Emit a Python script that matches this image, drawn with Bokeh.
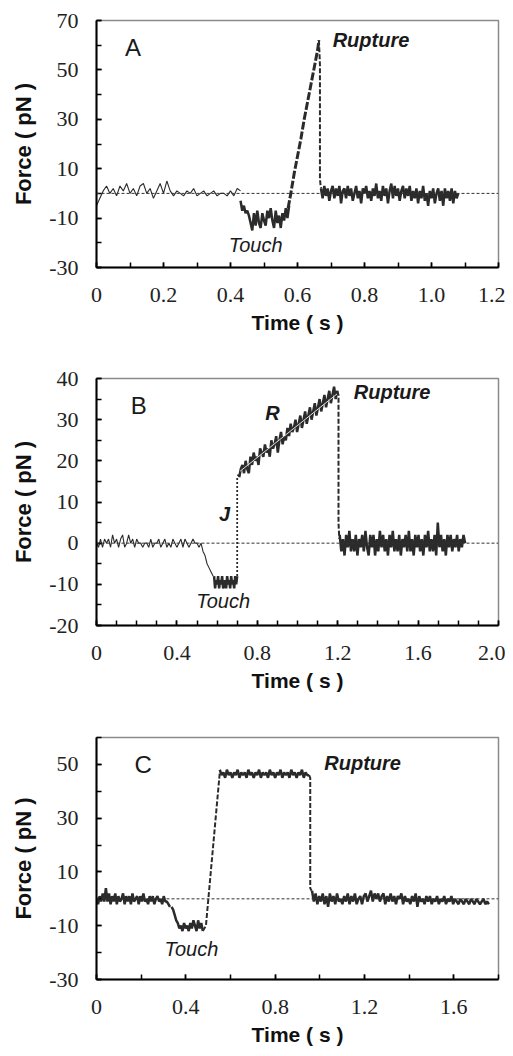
import numpy as np
from bokeh.plotting import figure
from bokeh.layouts import column
from bokeh.models import Range1d, FixedTicker, CustomJSTickFormatter, Span, Label
from bokeh.embed import file_html
from bokeh.resources import INLINE

# ---------------- data ----------------
# Panel A (sampled segments: start time, step, force values in pN)
A_pre_t0, A_pre_dt = 0.0, 0.01
A_pre = [-5, -2, 1, 3, 0, 2, -1, 3, 1, 4, 0, 2, -1, 3, 4, 0, 2, -2, 1, 4, 0, 5, 1, -1, 1, 0,
         -1, 1, 0, 2, -1, 0, 1, -1, 0, 1, -1, 0, 0, -1, 1, -1, 2, 1]
A_touch_t0, A_touch_dt = 0.43, 0.005
A_touch = [-3, -7, -5, -8, -7, -9, -12, -15, -8, -13, -7, -12, -14, -8, -11, -13, -7, -10, -6, -11,
           -14, -7, -12, -9, -14, -8, -11, -6, -10, -5]
A_ramp_t = [0.572, 0.58, 0.59, 0.60, 0.61, 0.62, 0.63, 0.64, 0.65, 0.66, 0.664]
A_ramp_f = [-6, 0, 8, 15, 22, 30, 37, 44, 51, 58, 62]
A_drop_t = [0.664, 0.667, 0.667, 0.669, 0.671]
A_drop_f = [62, 52, 6, 3, 2]
A_post_t0, A_post_dt = 0.67, 0.005
A_post = [2, -2, 3, -1, 2, -3, 1, 3, -2, 2,
          -1, 3, -4, 1, 2, -2, 3, -1, 2, -3,
          0, 3, -2, 1, -4, 2, 0, 3, -2, 1,
          -3, 2, -1, 4, -2, 1, -3, 3, -1, 2,
          -4, 1, 4, -2, 3, -1, 2, -3, 1, 3,
          -2, 2, -1, 3, -3, 1, -2, 2, -4, 1,
          -2, 3, -3, 0, -5, 1, -2, 2, -4, 0,
          2, -3, 1, -5, 2, -2, 1, -3, 2, -4,
          1, -2, 0]

# Panel B
B_pre_t0, B_pre_dt = 0.0, 0.01
B_pre = [0, -1, 1, -1, 1, 0, 1, -1, 2, 0,
         1, -1, 1, 2, -1, 0, 2, 0, 1, -1,
         1, 0, 0, -1, 0, 0, -1, 1, -1, 0,
         0, 1, -1, 0, 1, -1, 0, -1, 1, 0,
         -1, 0, 1, -1, 1, 0, -1, 0, 1, 0,
         0, -1, 0, -2, -3, -5, -6, -7, -8]
B_touch_t0, B_touch_dt = 0.585, 0.005
B_touch = [-8, -11, -9, -10, -8, -11, -9, -10, -8, -11, -10, -9, -11, -8, -10, -9, -11, -8,
           -10, -9, -11, -8, -10, -8]
B_jump_t = [0.70, 0.70, 0.71]
B_jump_f = [-8, 16, 17]
B_ramp_t0, B_ramp_dt = 0.71, 0.008
B_ramp = [16, 18, 19, 17, 20, 18, 17, 21, 19, 22, 20, 21, 19, 23, 22, 21, 24, 22, 23, 21,
          25, 23, 24, 26, 22, 25, 27, 24, 26, 25, 28, 26, 29, 27, 28, 30, 27, 29, 31, 28,
          30, 32, 29, 31, 33, 30, 32, 34, 31, 33, 35, 32, 34, 36, 33, 35, 37, 34, 36, 38,
          35, 37]
B_fit_t = [0.715, 1.198]
B_fit_f = [17.5, 36.3]
B_drop_t = [1.198, 1.204, 1.204, 1.208]
B_drop_f = [37, 36, 5, 1]
B_post_t0, B_post_dt = 1.21, 0.008
B_post = [2, -2, 1, -3, 2, -1, 3, -2, 1, -2,
          2, -3, 1, -1, 2, -2, 3, -1, -3, 2,
          -1, 2, -3, 1, -2, 3, -1, 2, -2, 1,
          -3, 2, -1, 3, -2, 1, -2, 2, -3, 1,
          -1, 2, -2, 3, -2, 1, -3, 2, -1, 2,
          -2, 1, -3, 2, -1, 3, -2, 1, -2, 2,
          -3, 5, -1, 2, -2, 1, -3, 2, -1, 2,
          -2, 1, -1, 2, -2, 1, -1, 2, 0]

# Panel C
C_pre_t0, C_pre_dt = 0.0, 0.007
C_pre = [0, -2, 1, -1, 2, -1, 4, -1, 2, -2,
         1, -1, 2, -2, 1, -1, 0, 2, -2, 1,
         -1, 1, -2, 2, -1, 0, 1, -2, 1, -1,
         2, -1, 0, -2, 1, -1, 1, -2, 0, 1,
         -1, 0, -2, 1, -1, -1, -2, -3]
C_touch_t0, C_touch_dt = 0.336, 0.007
C_touch = [-3, -4, -6, -8, -9, -11, -10, -12, -9, -11, -10, -12, -9, -11, -8, -10, -12, -8,
           -11, -9, -12]
C_ramp_t = [0.476, 0.49, 0.552]
C_ramp_f = [-12, -10, 47]
C_plat_t0, C_plat_dt = 0.552, 0.008
C_plat = [48, 46, 47, 45, 48, 46, 47, 45, 47, 46,
          48, 45, 47, 46, 47, 45, 48, 46, 47, 45,
          47, 46, 48, 45, 47, 46, 47, 45, 48, 46,
          47, 45, 47, 46, 48, 45, 47, 46, 47, 45,
          48, 46, 47, 45, 47, 46, 48, 45, 47, 46,
          46]
C_drop_t = [0.952, 0.957, 0.957, 0.963]
C_drop_f = [46, 45, 4, 3]
C_post_t0, C_post_dt = 0.965, 0.008
C_post = [3, -1, 2, -2, 1, -1, 2, -2, 1, -3,
          2, -1, 1, -2, 2, -1, 0, -2, 1, -1,
          2, -2, 1, -1, 2, -2, 0, 1, -2, 1,
          2, -1, 1, 3, -1, 2, 0, 2, -1, 1,
          2, -2, 1, -1, 2, -1, 1, -2, 1, 0,
          2, -2, 1, -1, 0, -2, 1, -1, 2, -3,
          1, -1, 0, -2, 1, -1, 1, -2, 0, -1,
          1, -2, 0, -1, 1, -2, 0, -1, 1, -2,
          0, -1, -2, 0, -1, -2, 0, -1, -2, 0,
          -1, -2, 0, -1, -2, -1, 0, -2, -1, -2]

# axes setup per panel
A_xlabels = [0, 0.2, 0.4, 0.6, 0.8, 1.0, 1.2]
A_xminor = [0, 0.1, 0.2, 0.3, 0.4, 0.5, 0.6, 0.7, 0.8, 0.9, 1.0, 1.1, 1.2]
A_ylabels = [-30, -10, 10, 30, 50, 70]
A_yminor = [-30, -20, -10, 0, 10, 20, 30, 40, 50, 60, 70]
B_xlabels = [0, 0.4, 0.8, 1.2, 1.6, 2.0]
B_xminor = [0, 0.1, 0.2, 0.3, 0.4, 0.5, 0.6, 0.7, 0.8, 0.9, 1.0, 1.1, 1.2, 1.3, 1.4, 1.5, 1.6,
            1.7, 1.8, 1.9, 2.0]
B_ylabels = [-20, -10, 0, 10, 20, 30, 40]
B_yminor = [-20, -15, -10, -5, 0, 5, 10, 15, 20, 25, 30, 35, 40]
C_xlabels = [0, 0.4, 0.8, 1.2, 1.6]
C_xminor = [0, 0.2, 0.4, 0.6, 0.8, 1.0, 1.2, 1.4, 1.6, 1.8]
C_ylabels = [-30, -10, 10, 30, 50]
C_yminor = [-30, -20, -10, 0, 10, 20, 30, 40, 50, 60]

LINE = "#2b2b2b"
SERIF = "Liberation Serif"
SANS = "Liberation Sans"


def seg_t(t0, dt, vals):
    return [round(t0 + i * dt, 5) for i in range(len(vals))]


def make_fig(height, bt, bb, xr, yr, xl, xm, yl, ym, lab_standoff=20, title_standoff=6):
    p = figure(width=505, height=height, x_range=Range1d(*xr), y_range=Range1d(*yr),
               output_backend="svg", toolbar_location=None,
               min_border_left=96, min_border_right=7, min_border_top=bt, min_border_bottom=bb)
    p.grid.visible = False
    p.background_fill_color = "white"
    p.border_fill_color = "white"
    p.outline_line_color = "#8a8a8a"
    p.outline_line_width = 1.5
    p.xaxis.ticker = FixedTicker(ticks=xl, minor_ticks=xm)
    p.yaxis.ticker = FixedTicker(ticks=yl, minor_ticks=ym)
    p.xaxis.formatter = CustomJSTickFormatter(code="return tick == 0 ? '0' : tick.toFixed(1);")
    p.yaxis.formatter = CustomJSTickFormatter(code="return tick.toFixed(0);")
    for ax in (p.xaxis[0], p.yaxis[0]):
        ax.axis_line_color = "black"
        ax.axis_line_width = 2
        ax.major_tick_in = 5
        ax.major_tick_out = 0
        ax.minor_tick_in = 5
        ax.minor_tick_out = 0
        ax.major_tick_line_width = 1.5
        ax.minor_tick_line_width = 1.5
        ax.major_label_text_font = SERIF
        ax.major_label_text_font_size = "22px"
        ax.major_label_text_color = "#222"
        ax.axis_label_text_font = SANS
        ax.axis_label_text_font_style = "bold"
        ax.axis_label_text_color = "#111"
    p.xaxis.axis_label_text_font_size = "21px"
    p.yaxis.axis_label_text_font_size = "22px"
    p.xaxis.major_label_standoff = lab_standoff
    p.xaxis.axis_label_standoff = title_standoff
    p.yaxis.major_label_standoff = 18
    p.yaxis.axis_label_standoff = 10
    p.xaxis.axis_label = "Time ( s )"
    p.yaxis.axis_label = "Force ( pN )"
    p.add_layout(Span(location=0, dimension="width", line_color="#333", line_width=1,
                      line_dash="3 2"))
    return p


def label(p, x, y, text, style="normal", size="20px", align="left"):
    p.add_layout(Label(x=x, y=y, text=text, text_font=SANS, text_font_style=style,
                       text_font_size=size, text_color="#1a1a1a", text_align=align,
                       text_baseline="middle"))


W_THICK = 2.5

# ---------------- Panel A ----------------
pa = make_fig(350, 20, 83, (0, 1.2), (-30, 70), A_xlabels, A_xminor, A_ylabels, A_yminor)
pa.line(seg_t(A_pre_t0, A_pre_dt, A_pre), A_pre, line_color=LINE, line_width=1.1)
pa.line(seg_t(A_touch_t0, A_touch_dt, A_touch), A_touch, line_color=LINE, line_width=W_THICK)
pa.line(A_ramp_t, A_ramp_f, line_color=LINE, line_width=3, line_dash="8 2")
pa.line(A_drop_t, A_drop_f, line_color=LINE, line_width=2, line_dash="5 2")
pa.line(seg_t(A_post_t0, A_post_dt, A_post), A_post, line_color=LINE, line_width=W_THICK)
label(pa, 0.085, 59, "A", size="24px")
label(pa, 0.705, 62, "Rupture", style="bold italic")
label(pa, 0.475, -21, "Touch", style="italic", align="center")

# ---------------- Panel B ----------------
pb = make_fig(360, 28, 85, (0, 2.0), (-20, 40), B_xlabels, B_xminor, B_ylabels, B_yminor)
pb.line(seg_t(B_pre_t0, B_pre_dt, B_pre), B_pre, line_color=LINE, line_width=1.1)
pb.line(seg_t(B_touch_t0, B_touch_dt, B_touch), B_touch, line_color=LINE, line_width=W_THICK)
pb.line(B_jump_t, B_jump_f, line_color=LINE, line_width=1.8, line_dash="2 2")
pb.line(seg_t(B_ramp_t0, B_ramp_dt, B_ramp), B_ramp, line_color=LINE, line_width=W_THICK)
pb.line(B_fit_t, B_fit_f, line_color="#e0e0e0", line_width=1)
pb.line(B_drop_t, B_drop_f, line_color=LINE, line_width=2, line_dash="5 2")
pb.line(seg_t(B_post_t0, B_post_dt, B_post), B_post, line_color=LINE, line_width=W_THICK)
label(pb, 0.17, 33.5, "B", size="24px")
label(pb, 0.84, 31.5, "R", style="bold italic")
label(pb, 0.61, 7.2, "J", style="bold italic")
label(pb, 1.28, 36.8, "Rupture", style="bold italic")
label(pb, 0.63, -14, "Touch", style="italic", align="center")

# ---------------- Panel C ----------------
pc = make_fig(344, 27, 75, (0, 1.8), (-30, 60), C_xlabels, C_xminor, C_ylabels, C_yminor)
pc.line(seg_t(C_pre_t0, C_pre_dt, C_pre), C_pre, line_color=LINE, line_width=W_THICK)
pc.line(seg_t(C_touch_t0, C_touch_dt, C_touch), C_touch, line_color=LINE, line_width=W_THICK)
pc.line(C_ramp_t, C_ramp_f, line_color=LINE, line_width=2, line_dash="5 2")
pc.line(seg_t(C_plat_t0, C_plat_dt, C_plat), C_plat, line_color=LINE, line_width=W_THICK)
pc.line(C_drop_t, C_drop_f, line_color=LINE, line_width=2, line_dash="5 2")
pc.line(seg_t(C_post_t0, C_post_dt, C_post), C_post, line_color=LINE, line_width=W_THICK)
label(pc, 0.17, 50, "C", size="24px")
label(pc, 1.02, 50.5, "Rupture", style="bold italic")
label(pc, 0.425, -18.5, "Touch", style="italic", align="center")

layout = column(pa, pb, pc, spacing=0)
open("out.html", "w").write(file_html(layout, INLINE))
